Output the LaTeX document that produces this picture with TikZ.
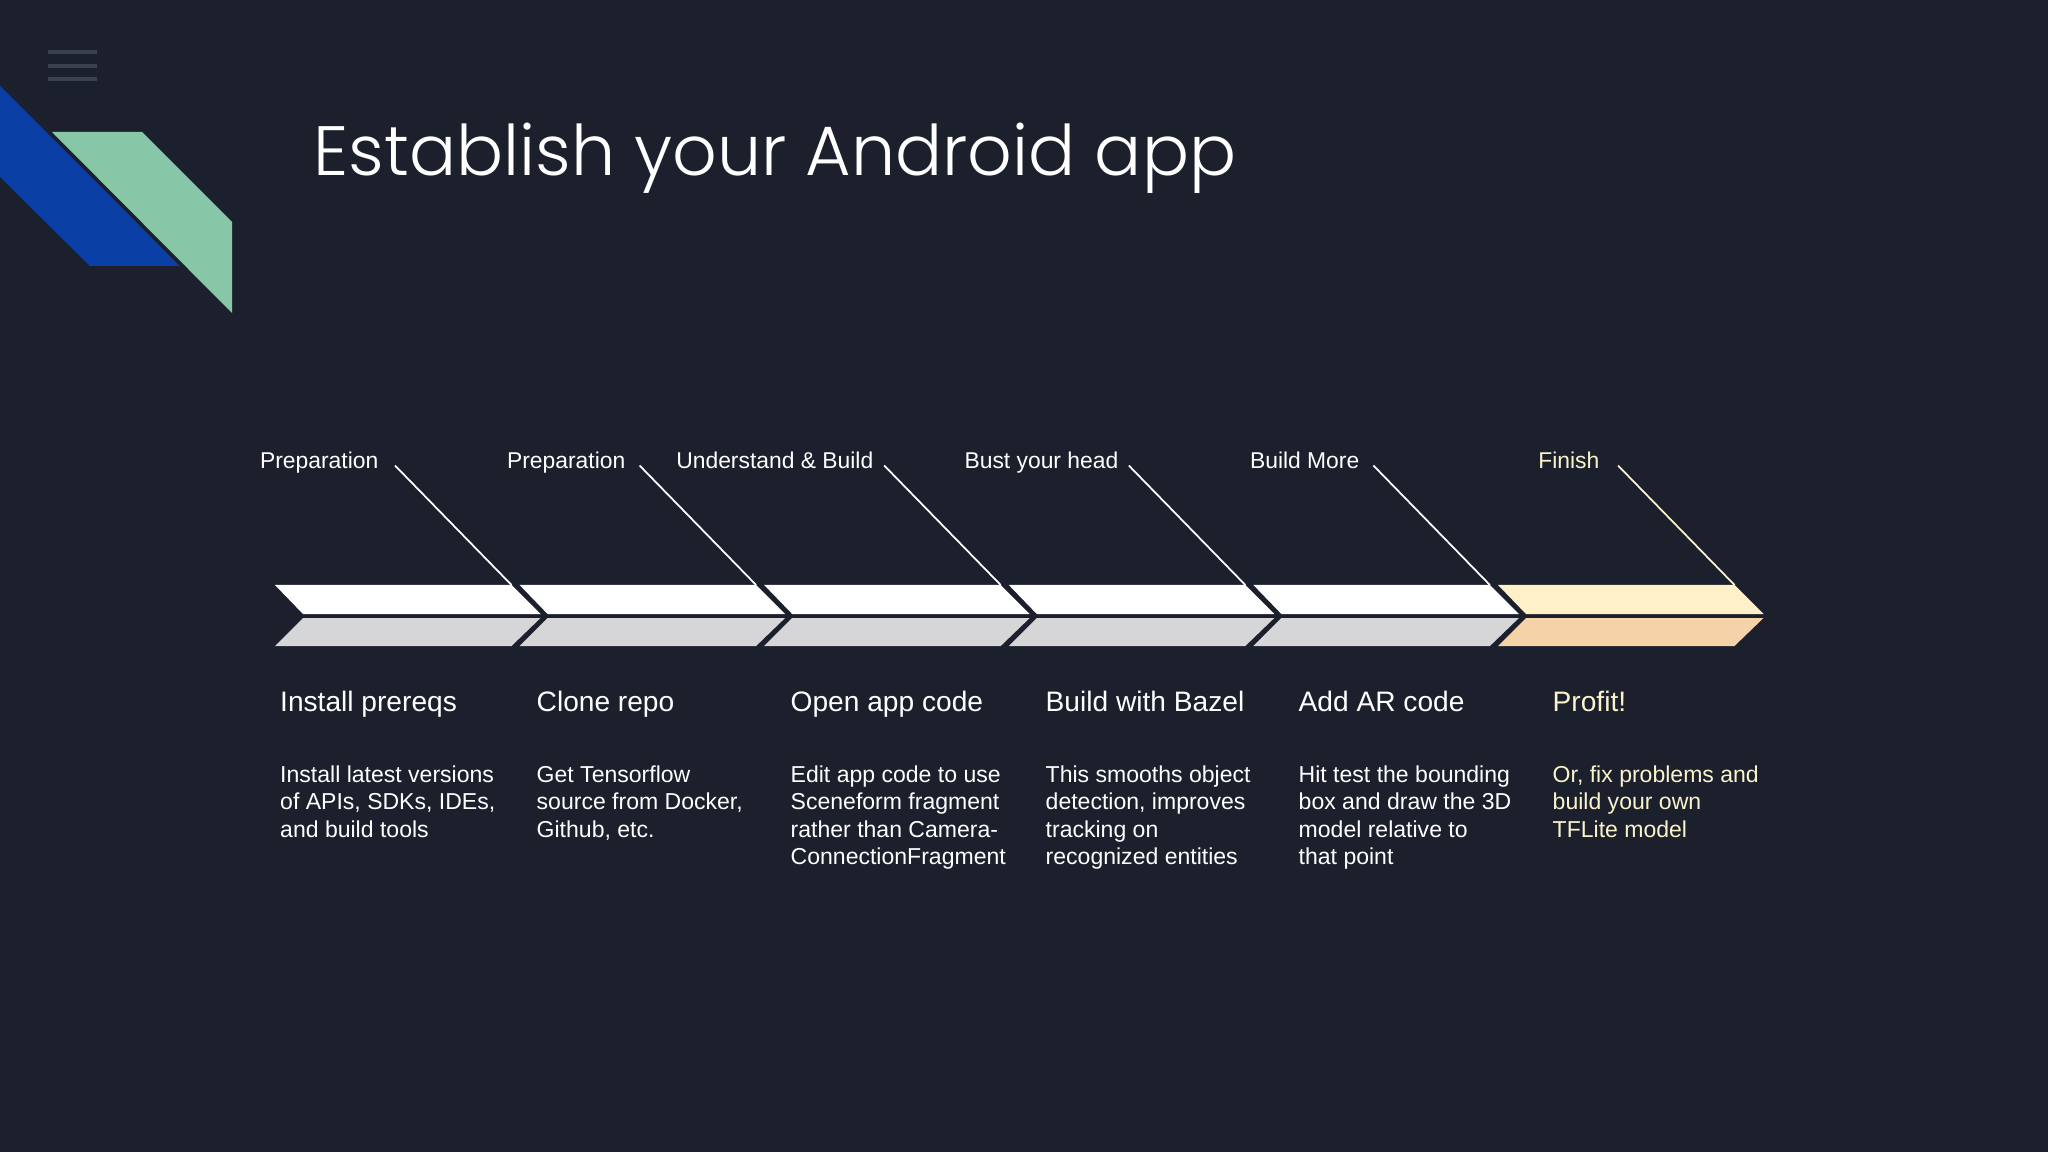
\documentclass[tikz,border=0pt]{standalone}
\usepackage{fontspec}
\setmainfont{Liberation Sans}
\newfontfamily\titlefont{Poppins Light}
\usetikzlibrary{calc}

\definecolor{slide}{HTML}{1C202D}
\definecolor{bars}{HTML}{3A4150}
\definecolor{bandblue}{HTML}{0A3FA6}
\definecolor{bandgreen}{HTML}{87C6A6}
\definecolor{lowgrey}{HTML}{D6D6D9}
\definecolor{cream}{HTML}{FFF0C8}
\definecolor{peach}{HTML}{F6D2A8}
\definecolor{finishink}{HTML}{FBF3CC}

\tikzset{
    leader/.style={line width=0.5pt},
    steplabel/.style={anchor=base east, inner sep=0pt, font=\fontsize{6.5}{8}\selectfont},
    stephead/.style={anchor=base west, inner sep=0pt, font=\fontsize{8}{10}\selectfont},
    stepbody/.style={anchor=north west, inner sep=0pt, align=left, font=\fontsize{6.55}{7.77}\selectfont},
}

\begin{document}
\begin{tikzpicture}[x=0.01cm, y=-0.01cm]

        \useasboundingbox (0,0) rectangle (2048,1152);
        \fill[slide] (0,0) rectangle (2048,1152);

        % menu bars
        \foreach \y in {52,66,79} {
            \fill[bars] (48,\y-2.2) rectangle (97,\y+2.2);
        }

        % corner bands
        \fill[bandblue] (0,86) -- (180,266) -- (90,266) -- (0,177) -- cycle;
        \fill[bandgreen] (52,132) -- (142,132) -- (232,222) -- (232,313) -- cycle;
        \draw[slide, line width=0.5pt] (50,133) -- (181,266);

        \node[anchor=base west, inner sep=0pt, text=white, font=\titlefont\fontsize{19.85}{24}\selectfont] (title) at (313,176) {Establish your Android app};

        % chevrons
        \foreach \i/\upper/\lower in {0/white/lowgrey, 1/white/lowgrey, 2/white/lowgrey, 3/white/lowgrey, 4/white/lowgrey, 5/cream/peach} {
            \pgfmathsetmacro{\lx}{275+244.6*\i}
            \fill[\upper] (\lx,585) -- ({\lx+236.5},585) -- ({\lx+265.5},614) -- ({\lx+28},614) -- cycle;
            \fill[\lower] (\lx,646) -- ({\lx+236.5},646) -- ({\lx+265.5},618) -- ({\lx+28},618) -- cycle;
            \coordinate (corner\i) at ({\lx+236.5},585);
        }

        % labels above with their leaders
        \foreach \i/\xr/\name/\ink in {0/379/Preparation/white, 1/626/Preparation/white, 2/874/Understand \& Build/white, 3/1119/Bust your head/white, 4/1360/Build More/white, 5/1600/Finish/finishink} {
            \node[steplabel, text=\ink] (label\i) at (\xr,468.5) {\name};
            \coordinate (lead\i) at ({395+244.6*\i},465.5);
            \draw[leader, \ink] (lead\i) -- (corner\i);
        }

        % step texts
        \foreach \i/\x/\head/\body/\ink in {
            0/279.5/Install prereqs/{Install latest versions\\of APIs, SDKs, IDEs,\\and build tools}/white,
            1/536/Clone repo/{Get Tensorflow\\source from Docker,\\Github, etc.}/white,
            2/790/Open app code/{Edit app code to use\\Sceneform fragment\\rather than Camera-\\ConnectionFragment}/white,
            3/1045/Build with Bazel/{This smooths object\\detection, improves\\tracking on\\recognized entities}/white,
            4/1298/Add AR code/{Hit test the bounding\\box and draw the 3D\\model relative to\\that point}/white,
            5/1552/Profit!/{Or, fix problems and\\build your own\\TFLite model}/finishink} {
            \node[stephead, text=\ink] (head\i) at (\x,711) {\head};
            \node[stepbody, text=\ink] (body\i) at (\x,765) {\body};
        }

\end{tikzpicture}
\end{document}
